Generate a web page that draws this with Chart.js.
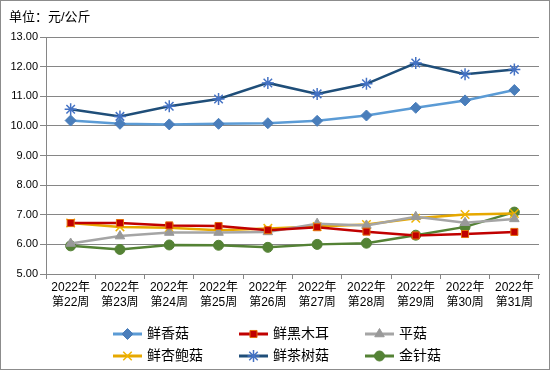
<!DOCTYPE html>
<html>
<head>
<meta charset="utf-8">
<script src="https://cdn.jsdelivr.net/npm/chart.js@4.4.1/dist/chart.umd.min.js"></script>
<style>
  body { margin: 0; background: #fff; }
  #wrap { width: 548px; height: 368px; border: 1px solid #8c8c8c; position: relative; }
</style>
</head>
<body>
<div id="wrap"><canvas id="priceChart" width="548" height="368"></canvas></div>
<script>
const weeks = ['22', '23', '24', '25', '26', '27', '28', '29', '30', '31'];
const xiangGu = [10.18, 10.07, 10.05, 10.07, 10.09, 10.17, 10.35, 10.61, 10.86, 11.21];
const heiMuEr = [6.72, 6.72, 6.64, 6.62, 6.48, 6.58, 6.43, 6.30, 6.35, 6.42];
const pingGu = [6.03, 6.28, 6.40, 6.40, 6.42, 6.70, 6.64, 6.93, 6.73, 6.86];
const xingBaoGu = [6.72, 6.59, 6.56, 6.48, 6.54, 6.60, 6.67, 6.88, 7.01, 7.04];
const chaShuGu = [10.56, 10.32, 10.66, 10.91, 11.45, 11.08, 11.42, 12.12, 11.74, 11.90];
const jinZhenGu = [5.95, 5.83, 5.98, 5.97, 5.90, 6.00, 6.04, 6.31, 6.59, 7.09];

const FONT = '"Liberation Sans", "Noto Sans CJK SC", sans-serif';
const gridColor = '#868686';

function series(label, data, line, marker, border, style, radius) {
  return {
    label: label,
    data: data,
    borderColor: line,
    backgroundColor: marker,
    pointBackgroundColor: marker,
    pointBorderColor: border,
    pointBorderWidth: style === 'crossRot' || style === 'star' ? 1.5 : 1,
    pointStyle: style,
    pointRadius: radius,
    pointHoverRadius: radius,
    borderWidth: 2.5,
    tension: 0
  };
}

const datasets = [
  series('鲜香菇', xiangGu, '#5b9bd5', '#4a7ebb', '#4a7ebb', 'rectRot', 5.5),
  series('鲜黑木耳', heiMuEr, '#c00000', '#c00000', '#e46c0a', 'rect', 5),
  series('平菇', pingGu, '#a5a5a5', '#999999', '#999999', 'triangle', 5.5),
  series('鲜杏鲍菇', xingBaoGu, '#e6a800', '#f0b400', '#f0b400', 'crossRot', 6),
  series('鲜茶树菇', chaShuGu, '#1f4e79', '#4472c4', '#4472c4', 'star', 6),
  series('金针菇', jinZhenGu, '#548235', '#548235', '#548235', 'circle', 5)
];

// draws the unit title and a 3-column legend in the canvas
const extras = {
  id: 'extras',
  afterDraw(chart) {
    const ctx = chart.ctx;
    ctx.save();
    ctx.fillStyle = '#000';
    ctx.font = '13px ' + FONT;
    ctx.textBaseline = 'middle';
    ctx.fillText('单位：元/公斤', 8, 16);

    const cols = [112, 238, 364];
    const rows = [333, 355];
    ctx.font = '14px ' + FONT;
    chart.data.datasets.forEach((ds, i) => {
      const x = cols[i % 3];
      const y = rows[Math.floor(i / 3)];
      ctx.strokeStyle = ds.borderColor;
      ctx.lineWidth = 3;
      ctx.beginPath();
      ctx.moveTo(x, y);
      ctx.lineTo(x + 29, y);
      ctx.stroke();
      ctx.fillStyle = ds.pointBackgroundColor;
      ctx.strokeStyle = ds.pointBorderColor;
      ctx.lineWidth = ds.pointBorderWidth;
      Chart.helpers.drawPoint(ctx, {
        pointStyle: ds.pointStyle,
        radius: ds.pointRadius,
        rotation: 0,
        borderWidth: ds.pointBorderWidth
      }, x + 14.5, y);
      ctx.fillStyle = '#000';
      ctx.fillText(ds.label, x + 34, y);
    });
    ctx.restore();
  }
};

window.addEventListener('load', () => {
  const ctx = document.getElementById('priceChart').getContext('2d');
  new Chart(ctx, {
    type: 'line',
    data: {
      labels: weeks.map(w => ['2022年', '第' + w + '周']),
      datasets: datasets
    },
    options: {
      responsive: false,
      animation: false,
      layout: { padding: { top: 36, right: 10, bottom: 45, left: 0 } },
      plugins: {
        legend: { display: false },
        tooltip: { enabled: false }
      },
      scales: {
        x: {
          offset: true,
          afterFit: scale => { scale.height = 50; },
          grid: {
            offset: true,
            drawOnChartArea: false,
            drawTicks: true,
            tickLength: 5,
            color: gridColor
          },
          border: { display: true, color: gridColor, width: 1 },
          ticks: {
            color: '#000',
            font: { family: FONT, size: 12, lineHeight: 1.25 },
            padding: 1,
            maxRotation: 0,
            autoSkip: false
          }
        },
        y: {
          min: 5,
          max: 13,
          afterFit: scale => { scale.width = 45; },
          grid: {
            color: gridColor,
            tickLength: 6,
            lineWidth: 1
          },
          border: { display: true, color: gridColor, width: 1 },
          ticks: {
            stepSize: 1,
            color: '#000',
            padding: 2,
            font: { family: FONT, size: 11 },
            callback: v => v.toFixed(2)
          }
        }
      }
    },
    plugins: [extras]
  });
});
</script>
</body>
</html>
